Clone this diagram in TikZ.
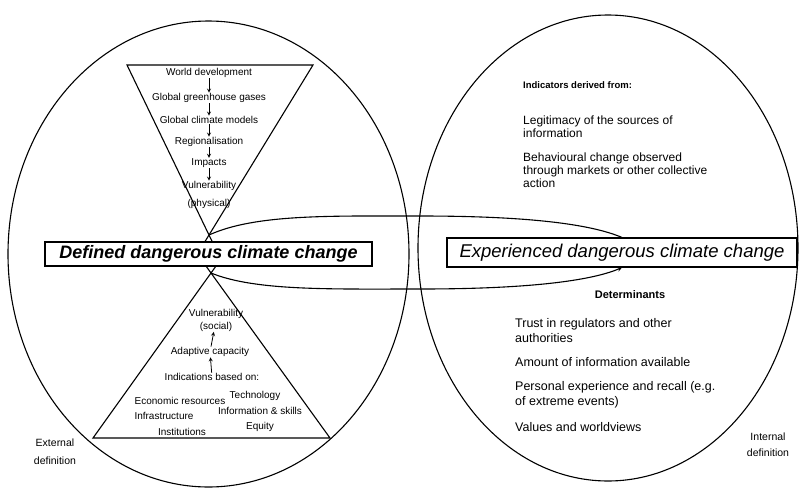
\documentclass[tikz,border=0pt]{standalone}
\usepackage{fontspec}
\setmainfont{Liberation Sans}
\usetikzlibrary{arrows, calc, positioning}
\tikzstyle{outline} = [draw=black, line width=1.1pt]
\tikzstyle{stage} = [inner sep=0.5pt, align=center, font=\fontsize{10}{13}\selectfont]
\tikzstyle{flow} = [line width=0.8pt,->,>=stealth]
\tikzstyle{lens} = [line width=1.1pt,->,>=stealth]
\tikzstyle{listtext} = [inner sep=0pt, anchor=west, align=left, font=\fontsize{12}{13}\selectfont]
\tikzstyle{headtext} = [inner sep=0pt, font=\bfseries\fontsize{9.5}{11}\selectfont]
\tikzstyle{outcome} = [rectangle, draw=black, fill=white, inner sep=0pt, text centered]

\begin{document}
\begin{tikzpicture}[x=1pt, y=-1pt, node distance=22pt]
		\useasboundingbox (0,0) rectangle (801,488);
		% the two ellipses
		\draw [outline] (208.5,254) ellipse [x radius=200.5, y radius=233];
		\draw [outline] (608,248) ellipse [x radius=190, y radius=233];

		% inverted triangle and its chain
		\coordinate (tl) at (127,65);
		\coordinate (tr) at (313,65);
		\coordinate (apx) at (209,235);
		\draw [outline] ($(tl)!1.04!(apx)$) -- (tl) -- (tr) -- ($(tr)!1.04!(apx)$);
		\node (wd) [stage] at (209,73) {World development};
		\node (ggg) [stage, below of=wd, yshift=-3pt] {Global greenhouse gases};
		\node (gcm) [stage, below of=ggg] {Global climate models};
		\node (reg) [stage, below of=gcm] {Regionalisation};
		\node (imp) [stage, below of=reg, yshift=1pt] {Impacts};
		\node (vphys) [stage, below of=imp, yshift=-10pt, font=\fontsize{10}{18}\selectfont] {Vulnerability\\(physical)};
		\draw [flow] (wd) -- (ggg);
		\draw [flow] (ggg) -- (gcm);
		\draw [flow] (gcm) -- (reg);
		\draw [flow] (reg) -- (imp);
		\draw [flow] (imp) -- (vphys);

		% upright triangle and its chain
		\coordinate (bl) at (93,438);
		\coordinate (br) at (330,438);
		\coordinate (apy) at (211,273);
		\draw [outline] ($(bl)!1.05!(apy)$) -- (bl) -- (br) -- ($(br)!1.05!(apy)$);
		\node (vsoc) [stage] at (216,320) {Vulnerability\\(social)};
		\node (adapt) [stage] at (210,352) {Adaptive capacity};
		\node (indic) [stage] at (212,377) {Indications based on:};
		\draw [flow] (adapt) -- (vsoc);
		\draw [flow] (indic) -- (adapt);
		\node (econ) [stage] at (180,401) {Economic resources};
		\node (tech) [stage] at (255,396) {Technology};
		\node (infra) [stage] at (164,416) {Infrastructure};
		\node (info) [stage] at (260,411) {Information \& skills};
		\node (inst) [stage] at (182,432) {Institutions};
		\node (equity) [stage] at (260,427) {Equity};

		% the two outcome boxes
		\node (exp) [outcome, line width=1.1pt, minimum width=350pt, minimum height=29pt,
			font=\itshape\fontsize{18.5}{20}\selectfont] at (622,252.5) {Experienced dangerous climate change};
		\draw [line width=1.1pt] (apx) .. controls (255,214) and (330,216) .. (420,216)
			.. controls (540,216) and (595,226) .. (exp.north);
		\draw [lens] (apy) .. controls (255,291) and (330,289) .. (420,289)
			.. controls (540,289) and (595,279) .. (exp.south);
		\node (def) [outcome, line width=1.8pt, minimum width=327pt, minimum height=24pt,
			font=\bfseries\itshape\fontsize{18}{19}\selectfont] at (208.5,254) {Defined dangerous climate change};

		% right hand texts
		\node (ind) [headtext, anchor=west] at (523,85) {Indicators derived from:};
		\node (legit) [listtext] at (523,127) {Legitimacy of the sources of\\information};
		\node (behav) [listtext] at (523,170) {Behavioural change observed\\through markets or other collective\\action};
		\node (det) [headtext, font=\bfseries\fontsize{11}{12}\selectfont] at (630,295) {Determinants};
		\node (trust) [listtext, font=\fontsize{12.5}{15}\selectfont] at (515,330.5) {Trust in regulators and other\\authorities};
		\node (amount) [listtext, font=\fontsize{12.5}{15}\selectfont] at (515,362) {Amount of information available};
		\node (pers) [listtext, font=\fontsize{12.5}{15}\selectfont] at (515,394.5) {Personal experience and recall (e.g.\\of extreme events)};
		\node (values) [listtext, font=\fontsize{12.5}{15}\selectfont] at (515,427) {Values and worldviews};

		\node (intdef) [align=center, inner sep=0pt, font=\fontsize{10.5}{16}\selectfont] at (768,445) {Internal\\definition};
		\node (extdef) [align=center, inner sep=0pt, font=\fontsize{10.5}{18}\selectfont] at (55,452) {External\\definition};
	  \end{tikzpicture}
\end{document}
